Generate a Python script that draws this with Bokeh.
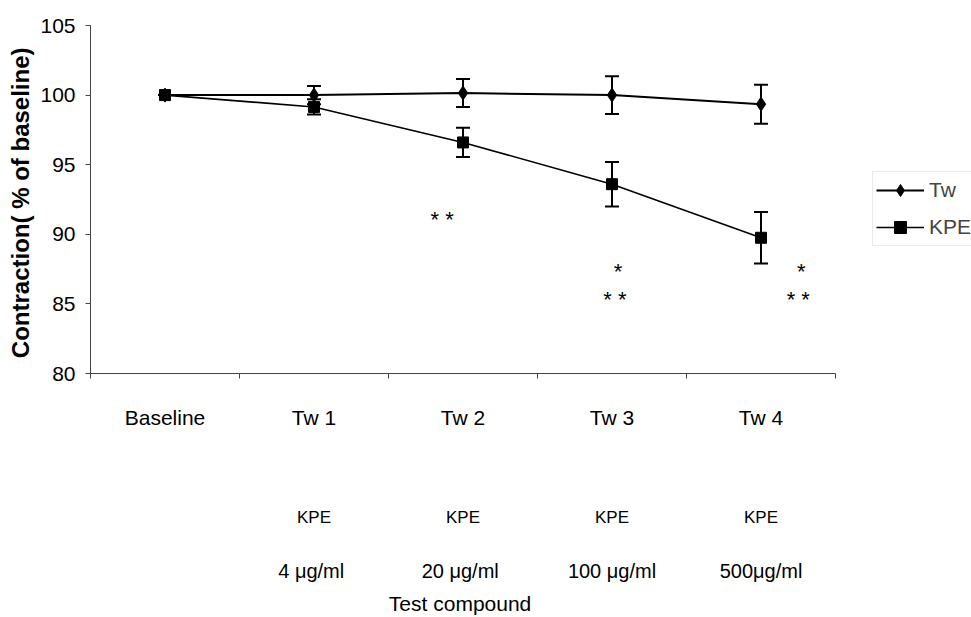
from bokeh.plotting import figure
from bokeh.models import (Range1d, FixedTicker, LinearAxis, Whisker, TeeHead,
                          ColumnDataSource, Legend, LegendItem)
from bokeh.embed import file_html
from bokeh.resources import INLINE

# ---- data ----
categories = ["Baseline", "Tw 1", "Tw 2", "Tw 3", "Tw 4"]
compound_labels = ["", "KPE", "KPE", "KPE", "KPE"]
dose_labels = ["", "4  \u03bcg/ml", "20  \u03bcg/ml", "100 \u03bcg/ml", "500\u03bcg/ml"]
tw_mean = [100.0, 100.0, 100.15, 100.0, 99.35]
tw_err = [0.0, 0.65, 1.0, 1.35, 1.4]
kpe_mean = [100.0, 99.15, 96.6, 93.6, 89.75]
kpe_err = [0.0, 0.55, 1.05, 1.6, 1.85]
y_ticks = [80, 85, 90, 95, 100, 105]
sig_category = ["Tw 2", "Tw 3", "Tw 3", "Tw 4", "Tw 4"]
sig_text = ["* *", "*", "* *", "*", "* *"]
sig_level = [91.05, 87.35, 85.35, 87.35, 85.35]

FONT = "Liberation Sans"
idx = list(range(len(categories)))
n = len(categories)

# layout: plotting frame spans the whole width so the legend can sit at the right;
# the x axis line is bounded to the category span
W, H = 971, 617
LEFT, AXIS_RIGHT = 90, 835
x_start = -0.5
x_end = x_start + n * (W - LEFT) / (AXIS_RIGHT - LEFT)

p = figure(width=W, height=H, output_backend="svg", toolbar_location=None,
           x_range=Range1d(x_start, x_end), y_range=Range1d(y_ticks[0], y_ticks[-1]),
           min_border_left=LEFT, min_border_right=0, min_border_top=25,
           min_border_bottom=233)
p.outline_line_color = None
p.xgrid.visible = False
p.ygrid.visible = False
p.background_fill_color = "white"

# y axis
ya = p.yaxis[0]
ya.ticker = FixedTicker(ticks=y_ticks)
ya.minor_tick_line_color = None
ya.major_tick_in = 0
ya.major_tick_out = 5
ya.axis_line_color = "#444444"
ya.major_tick_line_color = "#444444"
ya.major_label_text_font = FONT
ya.major_label_text_font_size = "21px"
ya.major_label_text_color = "black"
ya.major_label_standoff = 10
ya.axis_label = "Contraction( % of  baseline)"
ya.axis_label_text_font = FONT
ya.axis_label_text_font_style = "bold"
ya.axis_label_text_font_size = "24px"
ya.axis_label_text_color = "black"
ya.axis_label_standoff = 3

# x axis (categories)
xa = p.xaxis[0]
xa.bounds = (-0.5, n - 0.5)
xa.ticker = FixedTicker(ticks=idx, minor_ticks=[i - 0.5 for i in idx] + [n - 0.5])
xa.major_label_overrides = {i: c for i, c in zip(idx, categories)}
xa.major_tick_in = 0
xa.major_tick_out = 0
xa.minor_tick_in = 0
xa.minor_tick_out = 5
xa.axis_line_color = "#444444"
xa.minor_tick_line_color = "#444444"
xa.major_label_text_font = FONT
xa.major_label_text_font_size = "21px"
xa.major_label_text_color = "black"
xa.major_label_standoff = 27

ax2 = LinearAxis(ticker=FixedTicker(ticks=idx[1:]),
                 major_label_overrides={i: c for i, c in zip(idx, compound_labels) if c})
ax3 = LinearAxis(ticker=FixedTicker(ticks=idx[1:]),
                 major_label_overrides={i: c for i, c in zip(idx, dose_labels) if c})
ax4 = LinearAxis(ticker=FixedTicker(ticks=[(n - 1) / 2]),
                 major_label_overrides={(n - 1) / 2: "Test  compound", int((n - 1) / 2): "Test  compound"})
for ax, fs, so in [(ax2, "17px", 76), (ax3, "20px", 30), (ax4, "21px", 7)]:
    ax.axis_line_color = None
    ax.major_tick_line_color = None
    ax.minor_tick_line_color = None
    ax.major_tick_out = 0
    ax.major_tick_in = 0
    ax.minor_tick_out = 0
    ax.major_label_text_font = FONT
    ax.major_label_text_font_size = fs
    ax.major_label_text_color = "black"
    ax.major_label_standoff = so
p.add_layout(ax2, "below")
p.add_layout(ax3, "below")
p.add_layout(ax4, "below")

# data
tw_src = ColumnDataSource(dict(x=idx, y=tw_mean,
                               lo=[m - e for m, e in zip(tw_mean, tw_err)],
                               hi=[m + e for m, e in zip(tw_mean, tw_err)]))
kpe_src = ColumnDataSource(dict(x=idx, y=kpe_mean,
                                lo=[m - e for m, e in zip(kpe_mean, kpe_err)],
                                hi=[m + e for m, e in zip(kpe_mean, kpe_err)]))

for src in (tw_src, kpe_src):
    w = Whisker(source=src, base="x", lower="lo", upper="hi",
                line_color="black", line_width=2,
                upper_head=TeeHead(size=14, line_color="black", line_width=2),
                lower_head=TeeHead(size=14, line_color="black", line_width=2))
    p.add_layout(w)

tw_line = p.line("x", "y", source=tw_src, line_color="black", line_width=2)
tw_pts = p.scatter("x", "y", source=tw_src, marker="diamond", size=14,
                   fill_color="black", line_color="black")
kpe_line = p.line("x", "y", source=kpe_src, line_color="black", line_width=1.6)
kpe_pts = p.scatter("x", "y", source=kpe_src, marker="square", size=11,
                    fill_color="black", line_color="black")

# significance marks
sig_offset = [-0.14, 0.04, 0.02, 0.27, 0.25]
sig_x = [categories.index(c) + o for c, o in zip(sig_category, sig_offset)]
sig_src = ColumnDataSource(dict(x=sig_x, y=sig_level, t=sig_text))
p.text("x", "y", text="t", source=sig_src, text_font_size="22px",
       text_align="center", text_baseline="middle", text_color="black",
       text_font={"value": FONT})

legend = Legend(items=[LegendItem(label="Tw", renderers=[tw_line, tw_pts]),
                       LegendItem(label="KPE", renderers=[kpe_line, kpe_pts])],
                location=(782, 127), glyph_width=48, glyph_height=30,
                label_height=30, spacing=7, padding=3, margin=0,
                label_standoff=5, label_text_font=FONT,
                label_text_font_size="21px", border_line_color="#d6d6d6",
                border_line_width=1, background_fill_alpha=0)
p.add_layout(legend, "center")

open("out.html", "w").write(file_html(p, INLINE))
